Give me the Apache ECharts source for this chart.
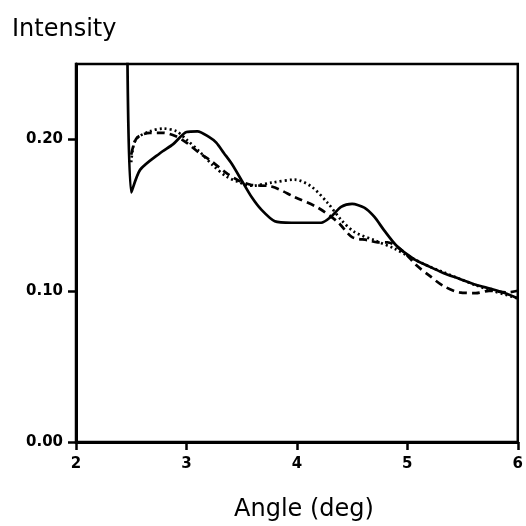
<!DOCTYPE html>
<html>
<head>
<meta charset="utf-8">
<script src="https://cdn.jsdelivr.net/npm/echarts@6/dist/echarts.min.js"></script>
<style>html,body{margin:0;padding:0;background:#fff;}#c{width:526px;height:526px;}</style>
</head>
<body>
<div id="c"></div>
<script>
const xTicks = [2, 3, 4, 5, 6];
const yTicks = [0, 0.1, 0.2];
const solidX = [2.465, 2.50, 2.58, 2.76, 2.88, 3.00, 3.10, 3.20, 3.27, 3.34, 3.41, 3.50, 3.59, 3.68, 3.80, 3.95, 4.10, 4.22, 4.31, 4.40, 4.50, 4.61, 4.70, 4.79, 4.90, 5.06, 5.20, 5.32, 5.47, 5.62, 5.77, 5.90, 6.00];
const solidY = [0.26, 0.165, 0.180, 0.191, 0.197, 0.205, 0.2055, 0.202, 0.198, 0.191, 0.184, 0.173, 0.162, 0.1535, 0.146, 0.145, 0.145, 0.145, 0.149, 0.1555, 0.1575, 0.155, 0.149, 0.140, 0.130, 0.121, 0.116, 0.112, 0.108, 0.104, 0.101, 0.098, 0.095];
const dashX = [2.50, 2.55, 2.67, 2.79, 2.91, 3.00, 3.12, 3.24, 3.36, 3.47, 3.59, 3.77, 3.98, 4.19, 4.37, 4.50, 4.64, 4.73, 4.82, 4.97, 5.08, 5.20, 5.32, 5.47, 5.62, 5.74, 5.91, 6.00];
const dashY = [0.190, 0.201, 0.2045, 0.2045, 0.202, 0.198, 0.191, 0.185, 0.178, 0.173, 0.170, 0.169, 0.162, 0.155, 0.1455, 0.1355, 0.1335, 0.132, 0.132, 0.1255, 0.117, 0.110, 0.1035, 0.099, 0.0985, 0.100, 0.099, 0.100];
const dotX = [2.50, 2.54, 2.67, 2.79, 2.91, 3.00, 3.12, 3.24, 3.36, 3.47, 3.59, 3.77, 3.98, 4.13, 4.28, 4.40, 4.52, 4.70, 4.88, 5.06, 5.20, 5.32, 5.47, 5.62, 5.77, 6.00];
const dotY = [0.185, 0.200, 0.2055, 0.2073, 0.2055, 0.200, 0.192, 0.183, 0.1757, 0.172, 0.1695, 0.1715, 0.1735, 0.169, 0.158, 0.147, 0.139, 0.1335, 0.128, 0.121, 0.116, 0.1125, 0.108, 0.1037, 0.100, 0.095];

const pairs = (xs, ys) => xs.map((x, i) => [x, ys[i]]);
const chart = echarts.init(document.getElementById('c'), null, {renderer: 'canvas'});
const lineStyleBase = {color: '#000', width: 2.7};
chart.setOption({
  backgroundColor: '#fff',
  animation: false,
  grid: {left: 76, right: 3, top: 64, bottom: 84, show: true, borderColor: '#000', borderWidth: 2.5, backgroundColor: 'transparent'},
  xAxis: {
    type: 'value', min: 2, max: 6, interval: 1,
    axisLine: {show: true, lineStyle: {color: '#000', width: 3}},
    axisTick: {show: true, length: 8, lineStyle: {color: '#000', width: 2.5}, customValues: xTicks},
    axisLabel: {color: '#000', fontFamily: 'DejaVu Sans', fontWeight: 'bold', fontSize: 15, margin: 15, customValues: xTicks},
    splitLine: {show: false}
  },
  yAxis: {
    type: 'value', min: 0, max: 0.25,
    axisLine: {show: true, lineStyle: {color: '#000', width: 3}},
    axisTick: {show: true, length: 8, lineStyle: {color: '#000', width: 2.5}, customValues: yTicks},
    axisLabel: {color: '#000', fontFamily: 'DejaVu Sans', fontWeight: 'bold', fontSize: 15, margin: 13, customValues: yTicks,
      formatter: v => v.toFixed(2)},
    splitLine: {show: false}
  },
  graphic: [
    {type: 'text', left: 12, top: 18, style: {text: 'Intensity', font: '24px "DejaVu Sans"', fill: '#000'}},
    {type: 'text', x: 304, y: 510, style: {text: 'Angle (deg)', font: '24px "DejaVu Sans"', fill: '#000', textAlign: 'center', textVerticalAlign: 'middle'}}
  ],
  series: [
    {type: 'line', data: pairs(solidX, solidY), showSymbol: false, smooth: 0.25, clip: true,
      lineStyle: Object.assign({}, lineStyleBase, {type: 'solid'})},
    {type: 'line', data: pairs(dashX, dashY), showSymbol: false, smooth: 0.3, clip: true,
      lineStyle: Object.assign({}, lineStyleBase, {type: [8, 5]})},
    {type: 'line', data: pairs(dotX, dotY), showSymbol: false, smooth: 0.3, clip: true,
      lineStyle: Object.assign({}, lineStyleBase, {type: [2, 3]})}
  ]
});
</script>
</body>
</html>
